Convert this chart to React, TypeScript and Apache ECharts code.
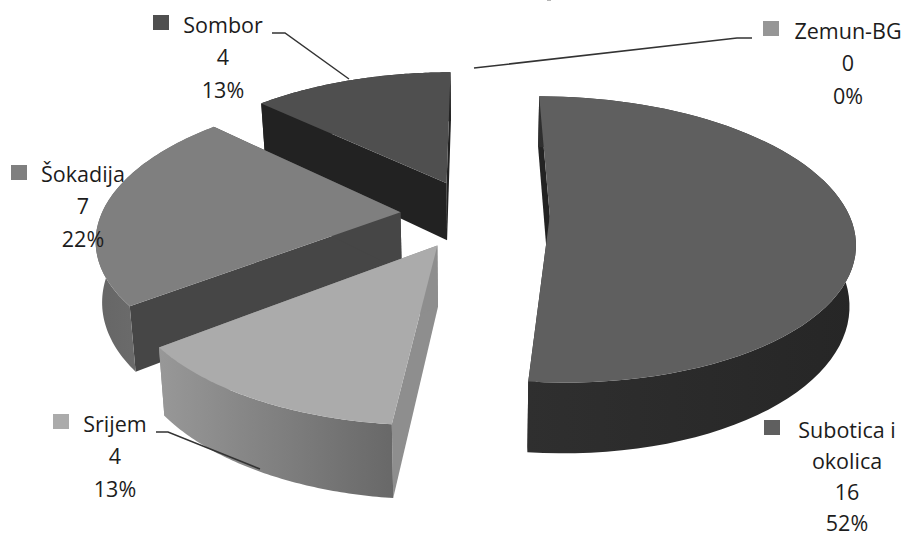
import React, { useEffect, useRef } from "react";
import * as echarts from "echarts";

const categories = ["Subotica i okolica", "Srijem", "Šokadija", "Sombor", "Zemun-BG"];
const values = [16, 4, 7, 4, 0];
const percentLabels = ["52%", "13%", "22%", "13%", "0%"];
const nameLines = ["Subotica i\nokolica", "Srijem", "Šokadija", "Sombor", "Zemun-BG"];
const topColors = ["#5f5f5f", "#ababab", "#7f7f7f", "#4f4f4f", "#969696"];
const radialWallColors = ["#232323", "#8e8e8e", "#464646", "#222222", "#777777"];
const outerWallStops = [
  ["#2f2f2f", "#262626"],
  ["#989898", "#686868"],
  ["#666666", "#747474"],
  ["#222222", "#222222"],
  ["#777777", "#777777"],
];
const drawRank = [4, 3, 2, 1, 0];

const CX = 475;
const CY = 214;
const RX = 299;
const RY = 138.6;
const K = 0.165;
const EXPLODE = 0.25;
const DEPTH = 59;
const BOTTOM_X = 0.983;

const total = values.reduce((a, b) => a + b, 0);

function project(u: number, v: number, lower: boolean): number[] {
  const s = 1 / (1 - K * v);
  const x = RX * u * s * (lower ? BOTTOM_X : 1);
  const y = RY * v * s + (lower ? DEPTH * s : 0);
  return [CX + x, CY + y];
}

function renderSlice(params: any, api: any) {
  const idx = params.dataIndex;
  const val = api.value(0);
  if (!val) return null;
  let before = 0;
  for (let i = 0; i < idx; i++) before += values[i];
  const a0 = (before / total) * Math.PI * 2;
  const a1 = ((before + val) / total) * Math.PI * 2;
  const mid = (a0 + a1) / 2;
  const au = EXPLODE * Math.sin(mid);
  const av = -EXPLODE * Math.cos(mid);
  const n = 72;
  const rim: number[][] = [];
  for (let i = 0; i <= n; i++) {
    const t = a0 + ((a1 - a0) * i) / n;
    rim.push([au + Math.sin(t), av - Math.cos(t)]);
  }
  const top = rim.map((p) => project(p[0], p[1], false));
  const bot = rim.map((p) => project(p[0], p[1], true));
  const apexT = project(au, av, false);
  const apexB = project(au, av, true);
  const z = drawRank[idx] * 10;
  const wall = radialWallColors[idx];
  const stops = outerWallStops[idx];
  return {
    type: "group",
    children: [
      {
        type: "polygon",
        z2: z,
        shape: { points: [apexT, top[0], bot[0], apexB] },
        style: { fill: wall },
      },
      {
        type: "polygon",
        z2: z + 1,
        shape: { points: [apexT, top[n], bot[n], apexB] },
        style: { fill: wall },
      },
      {
        type: "polygon",
        z2: z + 2,
        shape: { points: [...top, ...bot.slice().reverse()] },
        style: {
          fill: new echarts.graphic.LinearGradient(0, 0, 1, 0, [
            { offset: 0, color: stops[0] },
            { offset: 1, color: stops[1] },
          ]),
        },
      },
      {
        type: "polygon",
        z2: z + 3,
        shape: { points: [apexT, ...top] },
        style: { fill: topColors[idx] },
      },
    ],
  };
}

const FONT = "'Open Sans'";
const FONT_SIZE = 21.5;
const labelAnchors = [
  { x: 847, y: 414, step: 31, key: [764, 420] },
  { x: 115, y: 408, step: 32.3, key: [53, 414] },
  { x: 83, y: 158, step: 32.3, key: [11, 165] },
  { x: 223, y: 9, step: 32.3, key: [153, 15] },
  { x: 848, y: 15, step: 32.3, key: [763, 21] },
];
const leaders = [
  [[272, 33], [285, 33], [349, 79]],
  [[474, 68], [737, 38], [752, 38]],
  [[156, 432], [168, 432], [260, 469]],
];

export default function App() {
  const ref = useRef<HTMLDivElement>(null);
  useEffect(() => {
    document.body.style.margin = "0";
    const chart = echarts.init(ref.current!, undefined, { renderer: "svg" });
    const labelEls: any[] = [];
    categories.forEach((_, i) => {
      const a = labelAnchors[i];
      labelEls.push({
        type: "rect",
        shape: { x: a.key[0], y: a.key[1], width: 16, height: 15 },
        style: { fill: topColors[i] },
        z: 20,
      });
      const lines = `${nameLines[i]}\n${values[i]}\n${percentLabels[i]}`.split("\n");
      lines.forEach((line, j) => {
        labelEls.push({
          type: "text",
          x: a.x,
          y: a.y + 15.5 + j * a.step,
          z: 20,
          style: {
            text: line,
            fill: "#1c1c1c",
            font: `${FONT_SIZE}px ${FONT}`,
            lineHeight: 22,
            textAlign: "center",
            textVerticalAlign: "middle",
          },
        });
      });
    });
    leaders.forEach((pts) => {
      labelEls.push({
        type: "polyline",
        shape: { points: pts },
        style: { stroke: "#333333", lineWidth: 1.5, fill: "none" },
        z: 20,
      });
    });
    labelEls.push({
      type: "rect",
      shape: { x: 547, y: 0, width: 4, height: 1 },
      style: { fill: "#b5b5b5" },
      z: 20,
    });
    chart.setOption({
      animation: false,
      backgroundColor: "#ffffff",
      series: [
        {
          type: "custom",
          coordinateSystem: "none",
          silent: true,
          renderItem: renderSlice,
          data: values.map((v) => [v]),
          encode: { value: 0 },
        },
      ],
      graphic: { elements: labelEls },
    });
    return () => chart.dispose();
  }, []);
  return <div ref={ref} style={{ position: "absolute", left: 0, top: 0, width: 908, height: 538 }} />;
}
